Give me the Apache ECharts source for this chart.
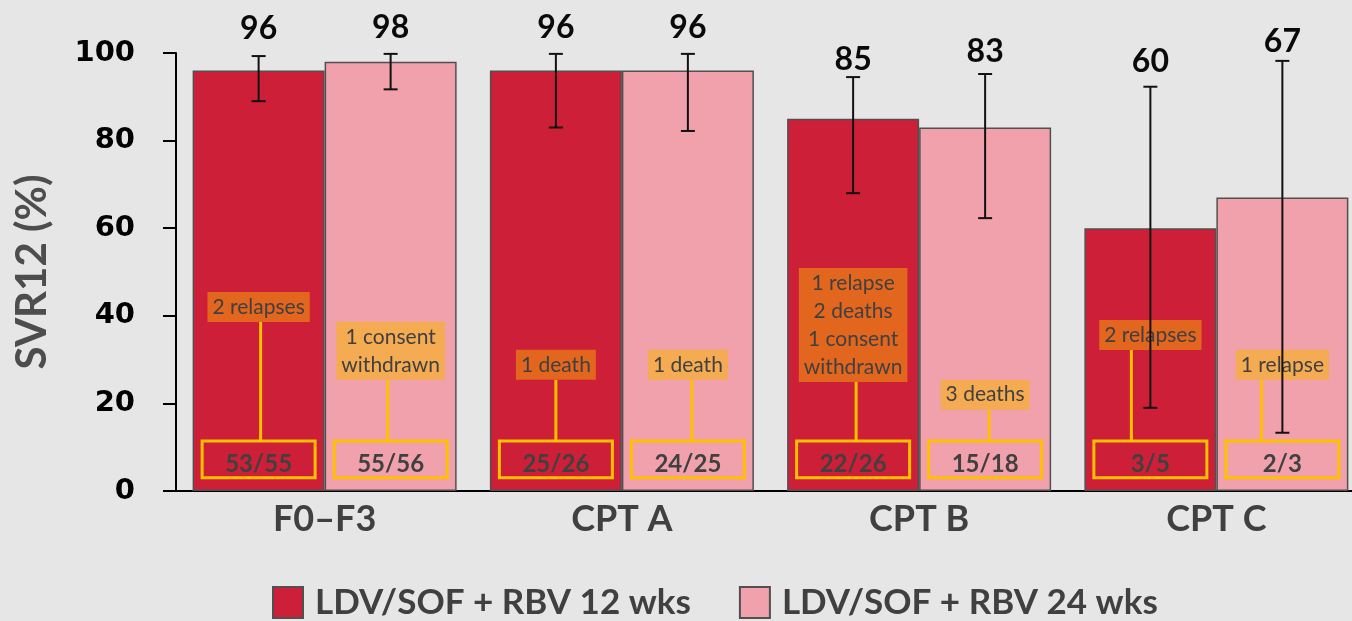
<!DOCTYPE html>
<html>
<head>
<meta charset="utf-8">
<script src="https://cdn.jsdelivr.net/npm/echarts@6/dist/echarts.min.js"></script>
<style>
  html, body { margin: 0; padding: 0; background: #E6E6E6; }
  #chart { width: 1352px; height: 621px; }
</style>
</head>
<body>
<div id="chart"></div>
<script>
// ---- data ----
const categories = ['F0–F3', 'CPT A', 'CPT B', 'CPT C'];
const seriesNames = ['LDV/SOF + RBV 12 wks', 'LDV/SOF + RBV 24 wks'];

const svr12 = [96, 96, 85, 60];
const svr24 = [98, 96, 83, 67];

const ciLow12 = [89, 83, 68, 19];
const ciHigh12 = [99.3, 99.8, 94.5, 92.3];
const ciLow24 = [91.7, 82.2, 62.3, 13.3];
const ciHigh24 = [99.8, 99.8, 95.2, 98.2];

const counts12 = ['53/55', '25/26', '22/26', '3/5'];
const counts24 = ['55/56', '24/25', '15/18', '2/3'];

const reasons12 = ['2 relapses', '1 death', '1 relapse\n2 deaths\n1 consent\nwithdrawn', '2 relapses'];
const reasons24 = ['1 consent\nwithdrawn', '1 death', '3 deaths', '1 relapse'];

const yMin = 0, yMax = 100, yStep = 20;

// ---- layout of the per-bar callouts (in axis units / pixels) ----
const BAR_W = 132;
const NOTE_LH = 28;
const NOTE_PAD = 1;
const notePos12 = [42, 28.8, 37.9, 35.6];
const notePos24 = [32, 28.8, 22, 28.8];
const stemShift12 = [2, 0, 3, -19];
const stemShift24 = [-3, 4, 4, -21];
const labelGap12 = [27, 26, 17, 25];
const labelGap24 = [26, 26, 22, 19];
const countBox = { lo: 3.0, hi: 11.4, w: 113 };

const RED = '#CE1F38';
const PINK = '#F0A1AB';
const YELLOW = '#FFC000';
const TEXT_DARK = '#404040';

function makeRender(arm) {
  const reasons = arm ? reasons24 : reasons12;
  const counts = arm ? counts24 : counts12;
  const notePos = arm ? notePos24 : notePos12;
  const stemShift = arm ? stemShift24 : stemShift12;
  const labelGap = arm ? labelGap24 : labelGap12;
  const noteFill = arm ? '#F5AB52' : '#E3661F';
  return function (params, api) {
    const i = params.dataIndex;
    const cat = api.value(0);
    const cx = api.coord([cat, 0])[0] + (arm ? 1 : -1) * BAR_W / 2;
    const yLo = api.coord([cat, api.value(2)])[1];
    const yHi = api.coord([cat, api.value(3)])[1];
    const yNote = api.coord([cat, notePos[i]])[1];
    const yBoxTop = api.coord([cat, countBox.hi])[1];
    const yBoxBot = api.coord([cat, countBox.lo])[1];
    const nLines = reasons[i].split('\n').length;
    const noteH = nLines * NOTE_LH + 2 * NOTE_PAD;
    const stemX = cx + stemShift[i];
    const cap = 7;
    return {
      type: 'group',
      children: [
        { type: 'line', shape: { x1: stemX, y1: yNote + noteH / 2, x2: stemX, y2: yBoxTop },
          style: { stroke: YELLOW, lineWidth: 3 } },
        { type: 'rect', shape: { x: cx - countBox.w / 2, y: yBoxTop, width: countBox.w, height: yBoxBot - yBoxTop },
          style: { fill: null, stroke: YELLOW, lineWidth: 3 } },
        { type: 'text', style: { text: counts[i], x: cx, y: (yBoxTop + yBoxBot) / 2 + 5,
          align: 'center', verticalAlign: 'middle', font: 'bold 24px Lato', fill: TEXT_DARK } },
        { type: 'text', style: { text: reasons[i], x: cx, y: yNote, align: 'center', verticalAlign: 'middle',
          font: '21px Lato', lineHeight: NOTE_LH, fill: TEXT_DARK, backgroundColor: noteFill,
          padding: [NOTE_PAD, 5] } },
        { type: 'line', shape: { x1: cx, y1: yLo, x2: cx, y2: yHi }, style: { stroke: '#111', lineWidth: 2 } },
        { type: 'line', shape: { x1: cx - cap, y1: yLo, x2: cx + cap, y2: yLo }, style: { stroke: '#111', lineWidth: 2 } },
        { type: 'line', shape: { x1: cx - cap, y1: yHi, x2: cx + cap, y2: yHi }, style: { stroke: '#111', lineWidth: 2 } },
        { type: 'text', style: { text: String(api.value(1)), x: cx, y: yHi - labelGap[i], align: 'center',
          verticalAlign: 'middle', font: 'bold 32px Lato', fill: '#0A0A0A' } }
      ]
    };
  };
}

const chart = echarts.init(document.getElementById('chart'), null, { renderer: 'canvas' });

chart.setOption({
  backgroundColor: '#E6E6E6',
  animation: false,
  grid: { left: 176, width: 1189, top: 53, height: 438, containLabel: false, outerBoundsMode: 'none' },
  legend: {
    data: seriesNames,
    top: 580,
    left: 267,
    itemWidth: 30,
    itemHeight: 31,
    itemGap: 48,
    icon: 'rect',
    textStyle: { fontFamily: 'Lato', fontWeight: 'bold', fontSize: 35, color: TEXT_DARK, padding: [0, 0, 0, 7] }
  },
  xAxis: {
    type: 'category',
    data: categories,
    axisLine: { show: true, lineStyle: { color: '#000', width: 2 } },
    axisTick: { show: false },
    axisLabel: { fontFamily: 'Lato', fontWeight: 'bold', fontSize: 36, color: TEXT_DARK, margin: 10 }
  },
  yAxis: {
    type: 'value',
    min: yMin, max: yMax, interval: yStep,
    name: 'SVR12 (%)',
    nameLocation: 'middle',
    nameRotate: 90,
    nameGap: 123,
    nameTextStyle: { fontFamily: 'Lato', fontWeight: 'bold', fontSize: 42, color: '#4D4D4D' },
    axisLine: { show: true, lineStyle: { color: '#000', width: 2 } },
    axisTick: { show: true, inside: false, length: 13, lineStyle: { color: '#000', width: 2 } },
    splitLine: { show: false },
    axisLabel: { fontFamily: 'DejaVu Sans', fontWeight: 'bold', fontSize: 29, color: '#000', margin: 41 }
  },
  series: [
    {
      name: seriesNames[0], type: 'bar', data: svr12, barWidth: BAR_W, barGap: '0%',
      itemStyle: { color: RED, borderColor: '#505050', borderWidth: 1.5 }
    },
    {
      name: seriesNames[1], type: 'bar', data: svr24, barWidth: BAR_W, barGap: '0%',
      itemStyle: { color: PINK, borderColor: '#505050', borderWidth: 1.5 }
    },
    {
      type: 'custom', name: 'notes12', renderItem: makeRender(0), z: 5,
      data: svr12.map((v, i) => [i, v, ciLow12[i], ciHigh12[i]]),
      encode: { x: 0, y: [1, 2, 3] }, silent: true
    },
    {
      type: 'custom', name: 'notes24', renderItem: makeRender(1), z: 5,
      data: svr24.map((v, i) => [i, v, ciLow24[i], ciHigh24[i]]),
      encode: { x: 0, y: [1, 2, 3] }, silent: true
    }
  ]
});
</script>
</body>
</html>
